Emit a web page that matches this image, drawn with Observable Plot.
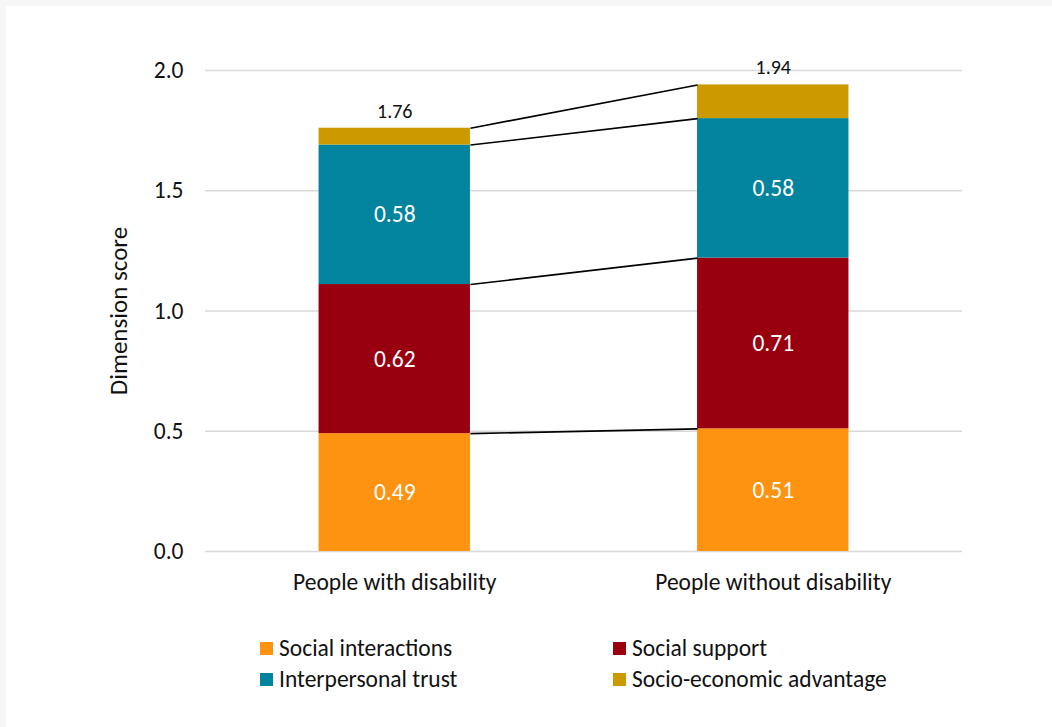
<!DOCTYPE html>
<html>
<head>
<meta charset="utf-8">
<script src="https://cdn.jsdelivr.net/npm/d3@7"></script>
<script src="https://cdn.jsdelivr.net/npm/@observablehq/plot@0.6"></script>
<style>
  html, body { margin: 0; padding: 0; background: #f6f6f6; width: 1052px; height: 727px; overflow: hidden; }
  #panel { position: absolute; left: 6px; top: 6px; width: 1046px; height: 721px; background: #ffffff; }
  #chart { position: absolute; left: 0; top: 0; }
  .legend { position: absolute; font-family: Carlito, Calibri, Lato, sans-serif; font-size: 23.5px; color: #111; }
  .item { position: absolute; white-space: nowrap; display: flex; align-items: center; }
  .sw { width: 13px; height: 13px; margin-right: 6px; display: inline-block; }
</style>
</head>
<body>
<div id="panel"></div>
<div id="chart"></div>
<div class="legend" id="legend"></div>
<script>
const categories = ["People with disability", "People without disability"];
const series = ["Social interactions", "Social support", "Interpersonal trust", "Socio-economic advantage"];
const withDisability = [0.49, 0.62, 0.58, 0.07];
const withoutDisability = [0.51, 0.71, 0.58, 0.14];
const totals = [1.76, 1.94];
const valueLabels = [["0.49", "0.62", "0.58", ""], ["0.51", "0.71", "0.58", ""]];
const colors = ["#FD9310", "#98000F", "#03849E", "#CC9A00"];
const yTicks = [0, 0.5, 1.0, 1.5, 2.0];

const FONT = "Carlito, Calibri, Lato, sans-serif";
const FS = 23.5;
const valuesByCat = [withDisability, withoutDisability];
const cums = valuesByCat.map(v => Array.from(d3.cumsum(v)));

// bar position on a linear x scale: category index i spans [i+0.3, i+0.7]
const rows = [];
valuesByCat.forEach((vals, i) => {
  vals.forEach((v, k) => {
    rows.push({
      cat: categories[i], series: series[k],
      x1: i + 0.3, x2: i + 0.7,
      y1: cums[i][k] - v, y2: cums[i][k],
      label: valueLabels[i][k]
    });
  });
});
const links = series.map((s, k) => ({x1: 0.7, x2: 1.3, y1: cums[0][k], y2: cums[1][k]}));
const totalRows = totals.map((t, i) => ({x: i + 0.5, y: t, label: t.toFixed(2)}));

const plot = Plot.plot({
  width: 1052,
  height: 610,
  marginLeft: 205,
  marginRight: 90,
  marginTop: 70,
  marginBottom: 59,
  style: {background: "transparent", fontFamily: FONT, fontSize: FS + "px", color: "#111"},
  x: {domain: [0, 2], axis: null},
  y: {domain: [0, 2], axis: null},
  color: {domain: series, range: colors},
  marks: [
    Plot.gridY(yTicks, {stroke: "#d9d9d9", strokeOpacity: 1, strokeWidth: 1.5}),
    Plot.axisY(yTicks, {tickSize: 0, tickPadding: 22, tickFormat: d => d.toFixed(1), label: null, fontSize: FS}),
    Plot.axisX([0.5, 1.5], {tickSize: 0, tickPadding: 22, tickFormat: d => categories[Math.floor(d)], label: null, fontSize: FS}),
    Plot.text(["Dimension score"], {frameAnchor: "left", textAnchor: "middle", rotate: -90, dx: -87, fontSize: 25, fill: "#111"}),
    Plot.rectY(rows, {x1: "x1", x2: "x2", y1: "y1", y2: "y2", fill: "series"}),
    Plot.link(links, {x1: "x1", x2: "x2", y1: "y1", y2: "y2", stroke: "#000", strokeWidth: 1.6}),
    Plot.text(rows.filter(d => d.label), {x: d => (d.x1 + d.x2) / 2, y: d => (d.y1 + d.y2) / 2, text: "label", fill: "white", fontSize: FS}),
    Plot.text(totalRows, {x: "x", y: "y", text: "label", dy: -17, fill: "#111", fontSize: 20})
  ]
});
document.getElementById("chart").appendChild(plot);

const legendPos = [[260, 648], [613, 648], [260, 679], [613, 679]];
const legend = document.getElementById("legend");
series.forEach((s, k) => {
  const it = document.createElement("div");
  it.className = "item";
  it.style.left = legendPos[k][0] + "px";
  it.style.top = (legendPos[k][1] - 15) + "px";
  it.style.height = "30px";
  const sw = document.createElement("span");
  sw.className = "sw";
  sw.style.background = colors[k];
  it.appendChild(sw);
  it.appendChild(document.createTextNode(s));
  legend.appendChild(it);
});
</script>
</body>
</html>
